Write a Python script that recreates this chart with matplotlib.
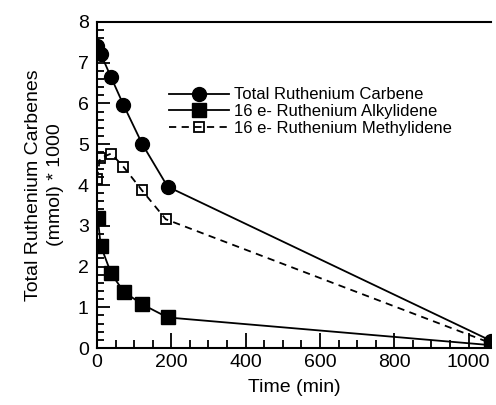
import matplotlib
matplotlib.use("Agg")
import matplotlib.pyplot as plt
from matplotlib.ticker import MultipleLocator

plt.rcParams['font.family'] = ['Liberation Sans', 'DejaVu Sans']

time_total = [0, 10, 38, 71, 122, 190, 1060]
total = [7.40, 7.22, 6.64, 5.97, 5.00, 3.96, 0.18]

time_alk = [2, 10, 38, 72, 122, 190, 1060]
alkylidene = [3.20, 2.51, 1.83, 1.38, 1.07, 0.75, 0.07]

time_meth = [0, 8, 38, 71, 120, 185, 1060]
methylidene = [4.15, 4.66, 4.77, 4.45, 3.88, 3.16, 0.12]

labels = ["Total Ruthenium Carbene", "16 e- Ruthenium Alkylidene", "16 e- Ruthenium Methylidene"]

fig = plt.figure(figsize=(4.96, 4.05), dpi=100)
ax = fig.add_axes([0.1956, 0.1407, 0.794, 0.805])

ax.plot(time_total, total, '-', color='black', lw=1.3, marker='o', ms=10,
        mfc='black', mec='black', label=labels[0])
ax.plot(time_alk, alkylidene, '-', color='black', lw=1.3, marker='s', ms=9.5,
        mfc='black', mec='black', label=labels[1])
ax.plot(time_meth, methylidene, '--', color='black', lw=1.3, marker='s', ms=7.5,
        mfc='none', mec='black', mew=1.3, dashes=(4, 3), label=labels[2])

ax.set_xlim(0, 1060)
ax.set_ylim(0, 8)
ax.xaxis.set_major_locator(MultipleLocator(200))
ax.xaxis.set_minor_locator(MultipleLocator(50))
ax.yaxis.set_major_locator(MultipleLocator(1))
ax.yaxis.set_minor_locator(MultipleLocator(0.2))
ax.tick_params(which='major', direction='in', length=9, width=1.3, labelsize=14)
ax.tick_params(which='minor', direction='in', length=5, width=1.3)
ax.tick_params(axis='x', which='major', length=11, pad=4)
ax.tick_params(axis='x', which='minor', length=6)
ax.tick_params(axis='y', which='major', pad=6)

for s in ['left', 'bottom', 'top']:
    ax.spines[s].set_linewidth(1.5)
ax.spines['right'].set_visible(False)

ax.set_xlabel("Time (min)", fontsize=14, labelpad=6)
ax.set_ylabel("Total Ruthenium Carbenes\n(mmol) * 1000", fontsize=14,
              labelpad=10, linespacing=1.35)

leg = ax.legend(loc='upper left', bbox_to_anchor=(0.165, 0.82), frameon=False,
                fontsize=12, handlelength=3.6, handletextpad=0.3,
                labelspacing=0.1, borderaxespad=0)

fig.savefig("out.png", dpi=100)
